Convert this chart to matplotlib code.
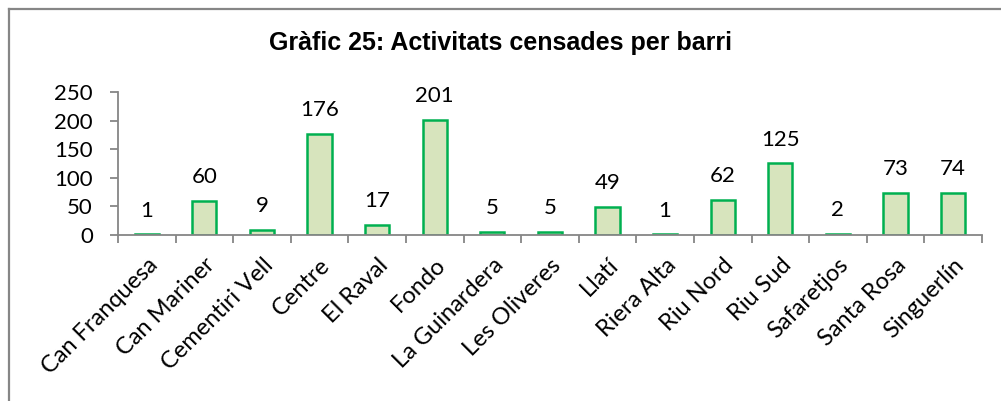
import numpy as np
import matplotlib
matplotlib.use("Agg")
import matplotlib.pyplot as plt
from matplotlib.lines import Line2D

barris = ["Can Franquesa", "Can Mariner", "Cementiri Vell", "Centre", "El Raval",
          "Fondo", "La Guinardera", "Les Oliveres", "Llatí", "Riera Alta",
          "Riu Nord", "Riu Sud", "Safaretjos", "Santa Rosa", "Singuerlín"]
activitats = [1, 60, 9, 176, 17, 201, 5, 5, 49, 1, 62, 125, 2, 73, 74]
y_ticks = [0, 50, 100, 150, 200, 250]

GRAY = "#868686"
EDGE = "#00B050"
FILL = "#D7E4BD"
LABEL_FONT = ["Lato", "DejaVu Sans"]

fig = plt.figure(figsize=(10.01, 4.01), dpi=100)
ax = fig.add_axes([0.1179, 0.414, 0.863, 0.3566])

x = np.arange(len(barris))
ax.bar(x, activitats, width=0.42, color=FILL, edgecolor=EDGE, linewidth=1.8)

for xi, v in zip(x, activitats):
    ax.annotate(str(v), (xi, v), xytext=(0, 10), textcoords="offset points",
                ha="center", va="bottom", fontsize=16, family=LABEL_FONT)

ax.set_xlim(-0.5, len(barris) - 0.5)
ax.set_ylim(0, 250)
ax.set_yticks(y_ticks)
ax.set_yticklabels([str(t) for t in y_ticks], fontsize=16, family=LABEL_FONT)

# ticks between categories, labels at the centres
ax.set_xticks(np.arange(len(barris) + 1) - 0.5)
ax.set_xticklabels([])
ax.set_xticks(x, minor=True)
ax.set_xticklabels(barris, minor=True, rotation=45, ha="right",
                   rotation_mode="anchor", fontsize=17, family=LABEL_FONT)
ax.tick_params(axis="x", which="minor", length=0, pad=14)
ax.tick_params(axis="x", which="major", length=6, width=1.3, color=GRAY)
ax.tick_params(axis="y", length=6, width=1.3, color=GRAY, pad=12)

for s in ["top", "right"]:
    ax.spines[s].set_visible(False)
for s in ["left", "bottom"]:
    ax.spines[s].set_color(GRAY)
    ax.spines[s].set_linewidth(1.3)

fig.text(0.5, 1 - 43 / 401, "Gràfic 25: Activitats censades per barri",
         ha="center", va="center", fontsize=18, fontweight="bold",
         family="Liberation Sans")

# chart-area border (left and top edges visible in the crop)
fx, fy = 8.5 / 1001, 1 - 8.5 / 401
fig.add_artist(Line2D([fx, fx], [0, fy], color=GRAY, lw=1.6))
fig.add_artist(Line2D([fx, 1], [fy, fy], color=GRAY, lw=1.6))

fig.savefig("out.png", dpi=100)
